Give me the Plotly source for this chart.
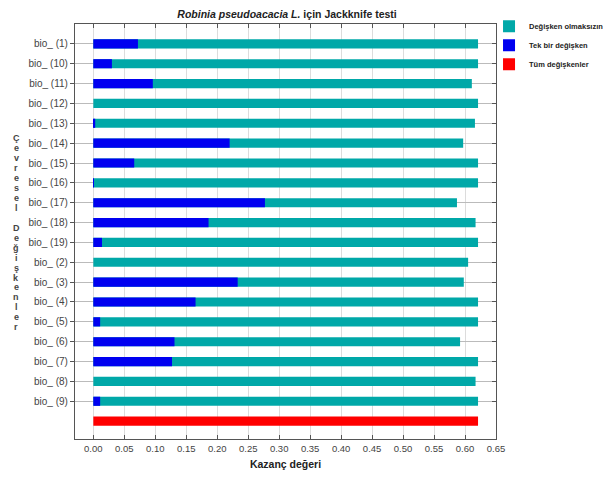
import plotly.graph_objects as go

categories = ["bio_ (1)", "bio_ (10)", "bio_ (11)", "bio_ (12)", "bio_ (13)", "bio_ (14)",
              "bio_ (15)", "bio_ (16)", "bio_ (17)", "bio_ (18)", "bio_ (19)", "bio_ (2)",
              "bio_ (3)", "bio_ (4)", "bio_ (5)", "bio_ (6)", "bio_ (7)", "bio_ (8)", "bio_ (9)"]
all_category = "all"

without_variable = [0.621, 0.621, 0.611, 0.621, 0.616, 0.597, 0.621, 0.621, 0.587, 0.617,
                    0.621, 0.605, 0.598, 0.621, 0.621, 0.592, 0.621, 0.617, 0.621]
only_variable = [0.072, 0.030, 0.096, 0.0, 0.003, 0.220, 0.066, 0.001, 0.277, 0.186,
                 0.014, 0.0, 0.233, 0.165, 0.011, 0.131, 0.127, 0.0, 0.011]
all_variables = [0.621]

x_ticks = [0.00, 0.05, 0.10, 0.15, 0.20, 0.25, 0.30, 0.35, 0.40, 0.45, 0.50, 0.55, 0.60, 0.65]

order = categories + [all_category]
FONT = "Liberation Sans, Arial, sans-serif"
BW = 0.46
# the page body has an 8px margin, so the figure is drawn 8px in from the window corner
W, H = 604, 471
ML, MR, MT, MB = 67, 116, 16, 40
PLOT_H = H - MT - MB

fig = go.Figure()
fig.add_trace(go.Bar(y=categories, x=without_variable, orientation="h", name="<b>Değişken olmaksızın</b>",
                     marker=dict(color="#00A8A8", line=dict(width=0)), width=BW))
fig.add_trace(go.Bar(y=categories, x=only_variable, orientation="h", name="<b>Tek bir değişken</b>",
                     marker=dict(color="#0000F0", line=dict(width=0)), width=BW))
fig.add_trace(go.Bar(y=[all_category], x=all_variables, orientation="h", name="<b>Tüm değişkenler</b>",
                     marker=dict(color="#FF0000", line=dict(width=0)), width=BW))
# invisible helper trace for right-side inward ticks
fig.add_trace(go.Scatter(y=categories, x=[0] * len(categories), yaxis="y2", mode="markers",
                         marker=dict(opacity=0), showlegend=False, hoverinfo="skip"))

title_text = "<b><i>Robinia pseudoacacia L.</i> için Jackknife testi</b>"
ylabel = "Çevresel Değişkenler"

# vertical stacked letters for the y-axis title
annotations = []
n = len(ylabel)
step = 9.95 / PLOT_H
center = 0.497
for i, ch in enumerate(ylabel):
    if ch == " ":
        continue
    annotations.append(dict(text="<b>" + ch + "</b>", xref="paper", yref="paper",
                            x=-0.1395, y=center + ((n - 1) / 2 - i) * step,
                            xanchor="center", yanchor="middle", showarrow=False,
                            font=dict(family=FONT, size=9, color="#444")))

fig.update_layout(
    width=W, height=H,
    margin=dict(l=ML, r=MR, t=MT, b=MB, autoexpand=False),
    paper_bgcolor="white", plot_bgcolor="white",
    barmode="overlay",
    font=dict(family=FONT, size=10, color="#444"),
    title=dict(text=title_text, x=0.462, xanchor="center", y=0.987, yanchor="middle",
               font=dict(family=FONT, size=10.5, color="#222")),
    legend=dict(xref="container", yref="container", x=0.7964, y=0.992, xanchor="left", yanchor="top",
                traceorder="normal", font=dict(family=FONT, size=7.5, color="#222"), itemwidth=30,
                tracegroupgap=0, bgcolor="rgba(0,0,0,0)"),
    xaxis=dict(range=[-0.0296, 0.65], tickvals=x_ticks, tickformat=".2f", automargin=False,
               ticks="inside", ticklen=4, tickcolor="#555", mirror="ticks",
               showline=True, linecolor="#555", linewidth=1.2,
               showgrid=True, gridcolor="#DCDCDC", gridwidth=1, zeroline=False,
               tickfont=dict(size=9.5, color="#444"),
               title=dict(text="<b>Kazanç değeri</b>", font=dict(size=10.5, color="#222"), standoff=8)),
    yaxis=dict(type="category", categoryorder="array", categoryarray=order, automargin=False,
               range=[19.9, -1.0], tickvals=categories, ticktext=categories,
               ticks="outside", ticklen=4, tickcolor="#555", mirror=True,
               showline=True, linecolor="#555", linewidth=1.2,
               showgrid=True, gridcolor="#BBBBBB", gridwidth=1, zeroline=False,
               tickfont=dict(size=10, color="#444")),
    yaxis2=dict(type="category", categoryorder="array", categoryarray=order, automargin=False,
                range=[19.9, -1.0], overlaying="y", side="right", tickvals=categories,
                ticks="inside", ticklen=4, tickcolor="#555", showticklabels=False,
                showgrid=False, showline=False, zeroline=False),
    annotations=annotations,
)

fig.write_html("out.html")
